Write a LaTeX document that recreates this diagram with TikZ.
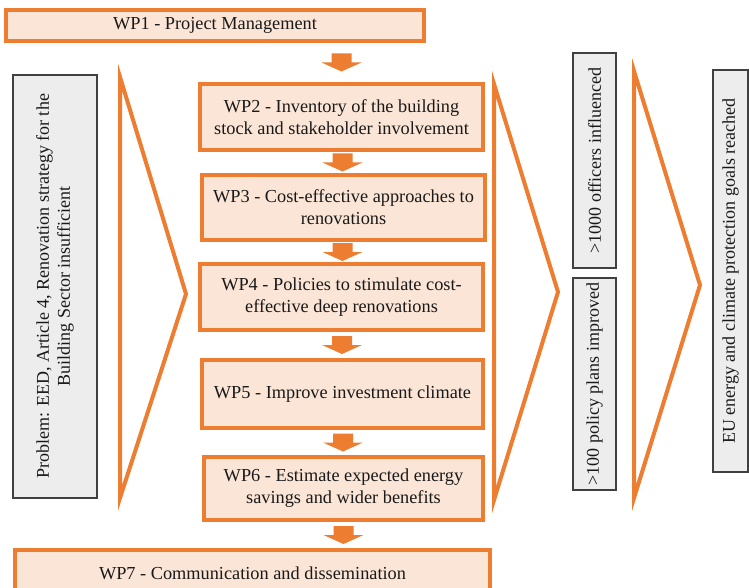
\documentclass[tikz,border=0pt]{standalone}
\usepackage{fontspec}
\setmainfont{Liberation Serif}
\usetikzlibrary{calc}
\definecolor{orng}{HTML}{ED7D31}
\definecolor{orngfill}{HTML}{FBE5D6}
\definecolor{greyfill}{HTML}{EDEDED}
\definecolor{greyline}{HTML}{404040}
\begin{document}
\begin{tikzpicture}[x=1pt,y=-1pt,
  wpbox/.style={draw=orng, line width=4pt, fill=orngfill, align=center,
    inner sep=0pt, text=black!90, font=\fontsize{18.3}{22}\selectfont},
  infobox/.style={draw=greyline, line width=1.2pt, fill=greyfill, align=center,
    inner sep=0pt, rotate=90, text=black!90, font=\fontsize{18}{21}\selectfont},
  chevron/.style={draw=orng, line width=4pt, line join=miter},
  pics/downarrow/.style={code={
    \fill[orng] (-10,-9) -- (10,-9) -- (10,0) -- (20,0) -- (0,9) -- (-20,0) -- (-10,0) -- cycle;}}
]
\useasboundingbox (0,0) rectangle (749,588);

% work packages
\node[wpbox, minimum width=418pt, minimum height=31pt] (wp1) at (215,25.5) {WP1 - Project Management};
\node[wpbox, minimum width=283pt, minimum height=66pt] (wp2) at (341.5,117) {WP2 - Inventory of the building\\stock and stakeholder involvement};
\node[wpbox, minimum width=283pt, minimum height=65pt] (wp3) at (343.5,207.5) {WP3 - Cost-effective approaches to\\renovations};
\node[wpbox, minimum width=283pt, minimum height=66pt] (wp4) at (341.5,297) {WP4 - Policies to stimulate cost-\\effective deep renovations};
\node[wpbox, minimum width=281pt, minimum height=68pt] (wp5) at (342.5,394) {WP5 - Improve investment climate};
\node[wpbox, minimum width=279pt, minimum height=63pt] (wp6) at (343.5,488.5) {WP6 - Estimate expected energy\\savings and wider benefits};
\node[wpbox, minimum width=475pt, minimum height=46pt] (wp7) at (252.5,573) {WP7 - Communication and dissemination};

% block arrows between the work packages
\pic at ($(wp1.south -| wp2.north)!0.5!(wp2.north)$) {downarrow};
\pic at ($(wp2.south)!0.5!(wp3.north)$) {downarrow};
\pic at ($(wp3.south)!0.5!(wp4.north)$) {downarrow};
\pic at ($(wp4.south)!0.5!(wp5.north)$) {downarrow};
\pic at ($(wp5.south)!0.5!(wp6.north)$) {downarrow};
\pic at ($(wp6.south)!0.5!(wp7.north -| wp6.south)$) {downarrow};

% problem, outputs and goal
\node[infobox, minimum width=423pt, minimum height=84pt] (problem) at (55,286.5) {Problem: EED, Article 4, Renovation strategy for the\\Building Sector insufficient};
\node[infobox, minimum width=215pt, minimum height=43pt] (officers) at (594.5,160.5) {>1000 officers influenced};
\node[infobox, minimum width=212pt, minimum height=43pt] (plans) at (594.5,384) {>100 policy plans improved};
\node[infobox, minimum width=402pt, minimum height=35pt] (goals) at (730.5,271) {EU energy and climate protection goals reached};

% chevrons
\draw[chevron] (120,77) -- (186,294) -- (120,498) -- cycle;
\draw[chevron] (494,84) -- (558,292) -- (494,500) -- cycle;
\draw[chevron] (634,71) -- (700,285) -- (634,498) -- cycle;
\end{tikzpicture}
\end{document}
